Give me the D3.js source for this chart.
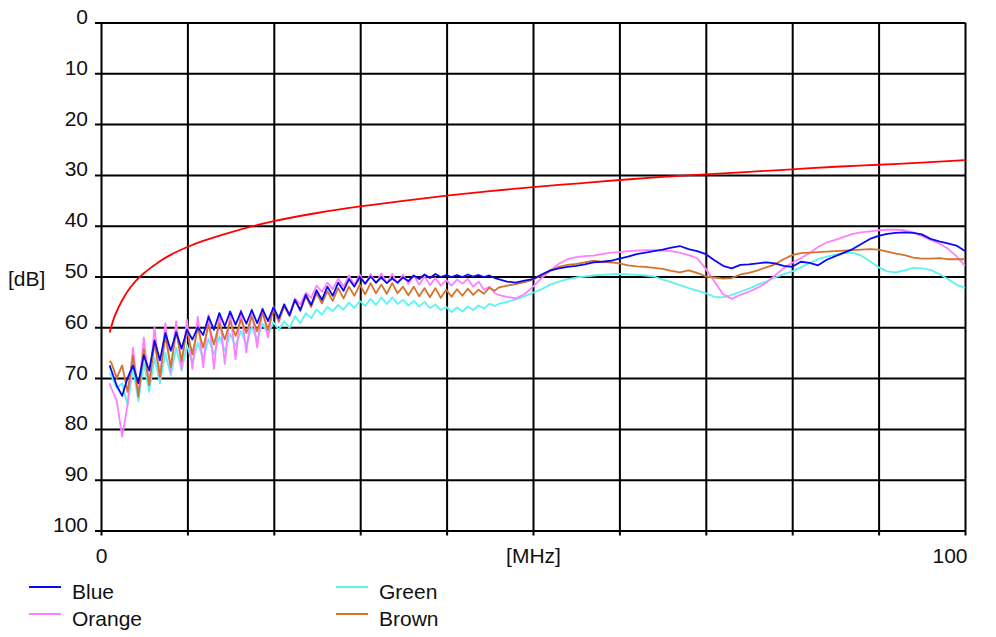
<!DOCTYPE html>
<html>
<head>
<meta charset="utf-8">
<script src="https://cdn.jsdelivr.net/npm/d3@7"></script>
<style>
  html, body { margin: 0; padding: 0; background: #fff; }
  svg { display: block; }
  text { font-family: "Liberation Sans", Arial, sans-serif; font-size: 21px; fill: #111; }
</style>
</head>
<body>
<svg id="chart" width="996" height="637"></svg>
<script>
// Sweep frequencies (MHz): fine steps through the rippled low band, 1 MHz above 46 MHz
const freqMHz = [1.0,
  1.2, 1.825, 2.45, 3.075, 3.7, 4.325, 4.95, 5.575,
  6.2, 6.825, 7.45, 8.075, 8.7, 9.325, 9.95, 10.575,
  11.2, 11.825, 12.45, 13.075, 13.7, 14.325, 14.95, 15.575,
  16.2, 16.825, 17.45, 18.075, 18.7, 19.325, 19.95, 20.575,
  21.2, 21.825, 22.45, 23.075, 23.7, 24.325, 24.95, 25.575,
  26.2, 26.825, 27.45, 28.075, 28.7, 29.325, 29.95, 30.575,
  31.2, 31.825, 32.45, 33.075, 33.7, 34.325, 34.95, 35.575,
  36.2, 36.825, 37.45, 38.075, 38.7, 39.325, 39.95, 40.575,
  41.2, 41.825, 42.45, 43.075, 43.7, 44.325, 44.95, 45.575,
  46, 47, 48, 49, 50, 51, 52, 53, 54, 55,
  56, 57, 58, 59, 60, 61, 62, 63, 64, 65,
  66, 67, 68, 69, 70, 71, 72, 73, 74, 75,
  76, 77, 78, 79, 80, 81, 82, 83, 84, 85,
  86, 87, 88, 89, 90, 91, 92, 93, 94, 95,
  96, 97, 98, 99, 100];

// Measured pair attenuation (dB) at each sweep frequency
const blueDb = [67.5,
  68.5, 71.5, 73.5, 70, 67.5, 71, 65.5, 68.5,
  62.6, 66.5, 61.1, 64.6, 61, 64.2, 60.5, 62.4,
  60, 61.5, 57.9, 60.5, 57.2, 59.8, 56.9, 59.5,
  56.9, 59.3, 56.6, 59.2, 56.4, 58.8, 56.1, 58.2,
  55.5, 57.6, 54.6, 56.6, 53.6, 55.6, 52.7, 54.6,
  52, 53.8, 51.2, 52.8, 50.5, 52, 50.1, 51.4,
  50, 51.2, 50.2, 51.3, 50.4, 51.2, 50.2, 50.9,
  49.8, 50.5, 49.6, 50.3, 49.5, 50.1, 49.7, 50.1,
  49.7, 50.1, 49.6, 50, 49.7, 50.1, 49.8, 50.3,
  50.5, 51, 51.2, 50.8, 50.5, 49.6, 48.8, 48.4, 48.1, 47.9,
  47.6, 47.2, 47.1, 46.9, 46.5, 46.1, 45.6, 45.3, 45, 44.7,
  44.3, 44, 44.6, 45, 45.6, 46.8, 47.9, 48.4, 47.7, 47.6,
  47.4, 47.2, 47.4, 47.9, 48.1, 47.1, 47.3, 47.8, 46.7, 46,
  45.3, 44.6, 43.6, 42.6, 42, 41.6, 41.4, 41.3, 41.4, 41.7,
  42.6, 43.1, 43.5, 43.9, 45];

const orangeDb = [71,
  72, 74.5, 81.5, 75.3, 64, 73.4, 62, 71.4,
  60, 70.1, 59.2, 68.8, 58.8, 68.2, 58.5, 68.2,
  57.9, 67.9, 57.5, 68.2, 57.2, 67.2, 56.9, 66.3,
  56.6, 65, 56.5, 64, 56.3, 62, 55.9, 59,
  55.5, 57.5, 54.3, 55.5, 53.2, 54.2, 51.8, 53,
  51.2, 52.5, 50.4, 52, 49.8, 51.6, 49.6, 51.5,
  49.5, 51.3, 49.4, 51.3, 49.5, 51.4, 49.6, 51.5,
  49.8, 51.6, 50, 51.7, 50.3, 51.8, 50.7, 51.8,
  50.6, 51.4, 50.5, 52, 51, 52.6, 52, 53.3,
  53.6, 54, 54.3, 53.5, 52, 50.3, 48.8, 47.5, 46.6, 46.2,
  46, 45.9, 45.6, 45.3, 45.2, 45, 44.9, 44.8, 44.8, 44.9,
  45, 45.3, 45.8, 46.4, 48.5, 51, 53.5, 54.4, 53.6, 53,
  52.2, 51.2, 49.8, 48.4, 47.3, 46.4, 45.4, 44.2, 43.3, 42.8,
  42.2, 41.6, 41.3, 41.1, 40.9, 40.8, 40.8, 40.9, 41.3, 42,
  42.8, 43.5, 44.5, 46, 47.9];

const greenDb = [69,
  69.5, 72, 71, 75.3, 68, 74.6, 67, 72.7,
  66, 71.1, 65, 69.5, 64, 68.5, 63.5, 67.2,
  63, 66.3, 62.3, 65.3, 61.8, 64.6, 61.3, 63.7,
  60.7, 63.4, 60, 62.4, 59.3, 61.4, 59, 60.5,
  58.8, 60.1, 57.8, 59.2, 57.2, 58.2, 56.5, 57.5,
  56, 56.8, 55.6, 56.5, 55.1, 56.2, 54.8, 55.8,
  54.4, 55.6, 54.1, 55.4, 54.1, 55.4, 54.6, 55.7,
  54.8, 55.9, 55, 56.2, 55.5, 56.6, 56, 57,
  56.1, 56.9, 55.9, 56.6, 55.7, 56.3, 55.4, 55.8,
  55.4, 55, 54.5, 53.9, 53.2, 52.5, 51.6, 51, 50.5, 50.2,
  50, 49.8, 49.7, 49.6, 49.5, 49.6, 49.7, 49.8, 50, 50.6,
  51.1, 51.7, 52.3, 52.8, 53.3, 54, 54.1, 53.6, 53, 52.4,
  51.6, 51, 50.2, 49.6, 49, 48.2, 47.4, 46.6, 46.1, 45.7,
  45.4, 45.3, 45.9, 47, 48.2, 49, 49.2, 48.8, 48.3, 48.4,
  48.7, 49.5, 50.5, 51.6, 52.3];

const brownDb = [66.6,
  67, 70, 67.5, 72.7, 65.6, 73.7, 64.3, 71.4,
  63, 69.8, 61.7, 67.9, 60.8, 66.6, 60.5, 65.3,
  60.1, 64, 59.5, 63.4, 59.2, 62.4, 58.8, 61.7,
  58.5, 61.1, 57.9, 60.8, 57.2, 60.5, 56.3, 58.8,
  55.9, 57.8, 54.6, 56.8, 53.9, 56, 53.3, 55.3,
  52.9, 54.8, 52.3, 54.3, 52, 53.8, 51.6, 53.5,
  51.3, 53.3, 51.6, 53.4, 51.3, 53.3, 52, 53.7,
  52, 53.9, 52.3, 54.1, 52.3, 54.2, 52.6, 54,
  52.5, 53.8, 52.4, 53.6, 52.6, 53.4, 52.2, 52.8,
  52.2, 51.8, 51.5, 51.1, 50.6, 49.8, 48.9, 48.1, 47.7, 47.5,
  47.2, 46.9, 47.1, 47.2, 47.4, 47.8, 48, 48.1, 48.3, 48.5,
  48.9, 49.2, 48.8, 49.3, 50, 50.2, 50.4, 50.3, 49.6, 49.3,
  48.8, 48.2, 47.6, 46.6, 45.8, 45.4, 45.3, 45.2, 45.1, 45,
  44.9, 44.8, 44.7, 44.6, 44.7, 45.1, 45.5, 45.8, 46.3, 46.5,
  46.5, 46.4, 46.6, 46.6, 46.6];

// Limit curve
const limitMHz = [1, 1.5, 2, 3, 4, 5, 6, 7, 8, 10, 12, 15, 20, 25, 30, 35, 40, 45,
  50, 55, 60, 65, 70, 75, 80, 85, 90, 95, 100];
const limitDb = [61, 58.2, 56.2, 53.1, 50.9, 49.3, 48, 46.8, 45.8, 44.2, 42.9, 41.3, 39.1,
  37.5, 36.2, 35.1, 34.1, 33.2, 32.4, 31.7, 31, 30.4, 29.9, 29.4, 28.9, 28.4, 28, 27.6, 27.1];

const yTicks = [0, 10, 20, 30, 40, 50, 60, 70, 80, 90, 100];
const xTicks = [0, 10, 20, 30, 40, 50, 60, 70, 80, 90, 100];
const xLabels = {0: "0", 50: "[MHz]", 100: "100"};

const seriesColors = {Blue: "#0a0af5", Orange: "#ff80ff", Green: "#5ef2f2", Brown: "#d2742c"};
const seriesValues = {Blue: blueDb, Orange: orangeDb, Green: greenDb, Brown: brownDb};
const drawOrder = ["Green", "Orange", "Brown", "Blue"];

const svg = d3.select("#chart");
const plotLeft = 101, plotRight = 965, plotTop = 22.5, plotBottom = 530.5;

const x = d3.scaleLinear().domain([0, 100]).range([plotLeft, plotRight]);
const y = d3.scaleLinear().domain([0, 100]).range([plotTop, plotBottom]);

const labelFont = "'Liberation Sans', Arial, sans-serif";

// Horizontal grid with short outside ticks
const yAxis = svg.append("g")
  .attr("transform", `translate(${plotLeft - 6},0)`)
  .call(d3.axisLeft(y).tickValues(yTicks).tickSize(-(plotRight - plotLeft + 6)).tickPadding(7));
yAxis.select(".domain").remove();
yAxis.selectAll("line").attr("stroke", "#000").attr("stroke-width", 2);
yAxis.selectAll("text").attr("dy", "0.05em").attr("fill", "#111")
  .style("font-size", "21px").style("font-family", labelFont);

// Vertical grid with short outside ticks
const xAxis = svg.append("g")
  .attr("transform", `translate(0,${plotBottom + 5})`)
  .call(d3.axisBottom(x).tickValues(xTicks).tickSize(-(plotBottom + 5 - plotTop))
    .tickFormat(d => xLabels[d] || ""));
xAxis.select(".domain").remove();
xAxis.selectAll("line").attr("stroke", "#000").attr("stroke-width", 2);
xAxis.selectAll("text").attr("y", 27).attr("dy", 0).attr("fill", "#111")
  .style("font-size", "21px").style("font-family", labelFont)
  .attr("text-anchor", d => d === 100 ? "end" : "middle")
  .attr("dx", d => d === 100 ? 2 : 0);

// Axis unit on the left
svg.append("text").attr("x", 8).attr("y", 286).text("[dB]");

// Measured curves
const line = d3.line()
  .x(d => x(d[0]))
  .y(d => y(d[1]))
  .curve(d3.curveLinear);

drawOrder.forEach(name => {
  const vals = seriesValues[name];
  const pts = freqMHz.map((f, i) => [f, vals[i]]).filter(p => p[1] != null);
  svg.append("path")
    .datum(pts)
    .attr("fill", "none")
    .attr("stroke", seriesColors[name])
    .attr("stroke-width", 1.8)
    .attr("stroke-linejoin", "round")
    .attr("d", line);
});

// Limit curve
svg.append("path")
  .datum(limitMHz.map((f, i) => [f, limitDb[i]]))
  .attr("fill", "none")
  .attr("stroke", "#ff0000")
  .attr("stroke-width", 1.8)
  .attr("d", d3.line().x(d => x(d[0])).y(d => y(d[1])).curve(d3.curveMonotoneX));

// Legend
const legendPos = [
  {name: "Blue", lx: 29, ly: 587},
  {name: "Orange", lx: 29, ly: 614},
  {name: "Green", lx: 336, ly: 587},
  {name: "Brown", lx: 336, ly: 614}
];
const legend = svg.append("g");
legendPos.forEach(p => {
  legend.append("line")
    .attr("x1", p.lx).attr("x2", p.lx + 32)
    .attr("y1", p.ly).attr("y2", p.ly)
    .attr("stroke", seriesColors[p.name]).attr("stroke-width", 2);
  legend.append("text")
    .attr("x", p.lx + 43).attr("y", p.ly + 12)
    .text(p.name);
});
</script>
</body>
</html>
